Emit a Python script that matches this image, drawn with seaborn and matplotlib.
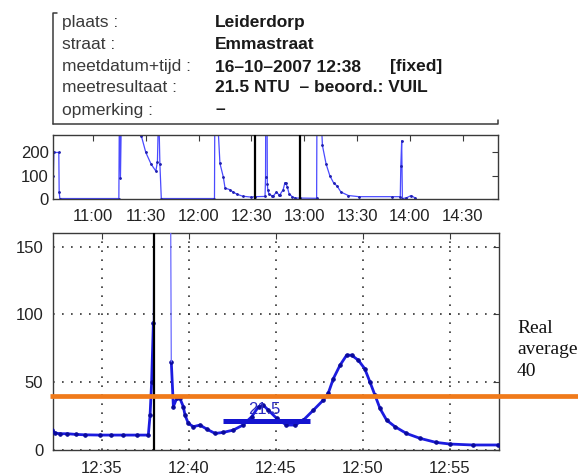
import matplotlib
matplotlib.use("Agg")
import matplotlib.pyplot as plt
import seaborn as sns
import pandas as pd

# ---------------- data ----------------
info_labels = ["plaats :", "straat :", "meetdatum+tijd :", "meetresultaat :", "opmerking :"]
info_values = ["Leiderdorp", "Emmastraat", "16\u201310\u20132007 12:38", "21.5 NTU  \u2013 beoord.: VUIL", "\u2013"]
info_flag = "[fixed]"

# overview (minutes since midnight)
overview_t = [637.5, 637.8, 640.6, 640.8, 641.2,
              674.7, 675.0, 675.6, 676.2, 687.0, 687.5, 690.0, 693.0, 695.7, 696.6, 697.3, 698.0, 698.8,
              729.0, 729.2, 730.4, 732.1, 734.0, 735.0, 737.8, 739.5, 742.0, 745.0, 750.0, 752.2,
              757.7, 758.0, 758.1, 758.9, 759.0, 759.3, 760.0, 761.4, 762.5, 764.2, 765.6, 766.1,
              768.0, 769.0, 769.4, 770.4, 771.4, 773.3, 775.0, 777.8,
              787.0, 787.2, 789.0, 790.0, 790.3, 792.4, 794.5, 796.6, 798.7, 800.8, 805.0, 811.0,
              830.0, 834.5, 834.8, 835.3, 835.7, 838.0, 840.7, 842.8]
overview_v = [100, 200, 200, 30, 2,
              2, 400, 90, 400, 400, 270, 200, 150, 120, 160, 400, 150, 2,
              2, 400, 400, 153, 95, 47, 40, 30, 20, 12, 8, 10,
              11, 95, 400, 300, 65, 38, 20, 15, 14, 30, 18, 18,
              40, 70, 70, 50, 22, 9, 4, 4,
              3, 400, 400, 280, 230, 150, 100, 70, 55, 30, 15, 10,
              10, 10, 140, 250, 2, 5, 15, 5]
overview_ticks = [660, 690, 720, 750, 780, 810, 840, 870]
overview_ticklabels = ["11:00", "11:30", "12:00", "12:30", "13:00", "13:30", "14:00", "14:30"]
overview_yticks = [0, 100, 200]
window = [752.2, 777.8]

# detail window
detail_pre_t = [752.1, 752.3, 752.6, 753.0, 753.5, 754.0, 754.9, 755.5, 756.2, 757.0, 757.66, 757.76, 757.85, 757.95]
detail_pre_v = [14.7, 12.5, 12.0, 12.0, 11.5, 11.2, 11.0, 11.0, 11.0, 11.0, 11.0, 25.7, 50.0, 94.0]
spike_t = [757.95, 758.05, 758.9, 758.98]
spike_v = [94, 400, 300, 65]
detail_post_t = [758.98, 759.1, 759.29, 759.48, 759.67, 759.77, 759.96, 760.25, 760.63, 761.02, 761.5, 761.97,
                 762.55, 763.1, 763.6, 764.0, 764.27, 764.56, 765.04, 765.6, 766.1, 766.57, 767.15, 767.72,
                 768.0, 768.3, 768.68, 769.06, 769.35, 769.73, 770.1, 770.4, 770.69, 770.98, 771.36, 771.84,
                 772.5, 773.28, 774.2, 775.0, 776.3, 777.77]
detail_post_v = [65, 32, 38, 38, 32, 25.7, 19.6, 17.2, 18.4, 15.4, 12.2, 13.0,
                 14.7, 18.4, 24.5, 32.0, 33.0, 29.4, 23.3, 18.4, 18.4, 22.0, 29.4, 36.8,
                 41.7, 52.7, 62.5, 69.9, 69.9, 66.2, 60.0, 50.2, 40.4, 30.6, 22.0, 17.2,
                 12.2, 8.6, 5.6, 4.4, 3.7, 3.7]
detail_ticks = [755, 760, 765, 770, 775]
detail_ticklabels = ["12:35", "12:40", "12:45", "12:50", "12:55"]
detail_yticks = [0, 50, 100, 150]
measure_time = 758.0
result_value = 21.5
result_span = [761.95, 766.95]
result_label = "21.5"
real_average = 40
avg_label = "Real\naverage\n40"

# ---------------- style ----------------
sns.set_style("white")
plt.rcParams["font.family"] = ["Liberation Sans", "DejaVu Sans"]
SPINE = "#3a3a3a"
W, H = 578, 476
fig = plt.figure(figsize=(W / 100, H / 100), dpi=100)


def fx(px):
    return px / W


def fy(py):
    return 1 - py / H


# ---- info box ----
ax_info = fig.add_axes([fx(53), fy(124), (498 - 53) / W, (124 - 13) / H])
ax_info.set_xlim(53, 498)
ax_info.set_ylim(124, 13)
ax_info.axis("off")
ax_info.plot([57, 53, 53], [13, 13, 124], color=SPINE, lw=1.1, clip_on=False)
ax_info.plot([53, 498, 498], [124, 124, 120], color=SPINE, lw=1.1, clip_on=False)
rows = [23, 45, 67, 88, 110]
for r, lab, val in zip(rows, info_labels, info_values):
    ax_info.text(62, r, lab, fontsize=12.5, va="center", ha="left", color="#3a3a3a")
    ax_info.text(215, r, val, fontsize=12.5, va="center", ha="left", color="#1a1a1a", fontweight="bold")
ax_info.text(390, rows[2], info_flag, fontsize=12.5, va="center", ha="left", color="#1a1a1a", fontweight="bold")

# ---- overview panel ----
ax_top = fig.add_axes([fx(53), fy(199), (498 - 53) / W, (199 - 135) / H])
df_top = pd.DataFrame({"t": overview_t, "v": overview_v})
sns.lineplot(data=df_top, x="t", y="v", ax=ax_top, sort=False, estimator=None,
             color="#4a4aff", lw=0.9, marker=".", markersize=2.5,
             markeredgecolor="#2020b0", markerfacecolor="#2020b0")
for w in window:
    ax_top.axvline(w, color="black", lw=1.6, zorder=5)
ax_top.set_xlim(637.3, 890)
ax_top.set_ylim(0, 275)
ax_top.set_xticks(overview_ticks)
ax_top.set_xticklabels(overview_ticklabels)
ax_top.set_yticks(overview_yticks)
ax_top.set_xlabel("")
ax_top.set_ylabel("")
ax_top.tick_params(direction="in", length=4, width=0.8, top=True, right=True,
                   labelsize=12, colors=SPINE, labelcolor="#222222")
ax_top.tick_params(axis="x", pad=7)
ax_top.tick_params(axis="y", pad=3)

# ---- detail panel ----
ax = fig.add_axes([fx(53), fy(450), 446 / W, (450 - 233) / H])
df_pre = pd.DataFrame({"t": detail_pre_t, "v": detail_pre_v})
df_spk = pd.DataFrame({"t": spike_t, "v": spike_v})
df_post = pd.DataFrame({"t": detail_post_t, "v": detail_post_v})
for d in (df_pre, df_post):
    sns.lineplot(data=d, x="t", y="v", ax=ax, sort=False, estimator=None,
                 color="#1c1ce0", lw=2.0, marker=".", markersize=5,
                 markeredgecolor="#0a0a9a", markerfacecolor="#0a0a9a", zorder=3)
sns.lineplot(data=df_spk, x="t", y="v", ax=ax, sort=False, estimator=None,
             color="#6a6aff", lw=0.9, zorder=3)
ax.axvline(measure_time, color="black", lw=1.6, zorder=4)
ax.plot(result_span, [result_value, result_value], color="#1414d0", lw=3.6,
        solid_capstyle="butt", zorder=5)
ax.text(sum(result_span) / 2 - 0.1, result_value + 8, result_label, color="#2a2ac0",
        fontsize=12, ha="center", va="center", zorder=6)
ax.plot([-0.007, 1.25], [real_average, real_average], transform=ax.get_yaxis_transform(),
        color="#f07a1a", lw=3.4, clip_on=False, zorder=7, solid_capstyle="butt")
ax.set_xlim(752.18, 777.82)
ax.set_ylim(0, 160)
ax.set_xticks(detail_ticks)
ax.set_xticklabels(detail_ticklabels)
ax.set_yticks(detail_yticks)
ax.set_xlabel("")
ax.set_ylabel("")
ax.grid(True, linestyle=(0, (1, 4.4)), color="#333333", lw=1.2)
ax.tick_params(direction="in", length=4, width=0.8, top=True, right=True,
               labelsize=12, colors=SPINE, labelcolor="#222222")
ax.tick_params(axis="x", pad=8)
ax.tick_params(axis="y", pad=7)

for a in (ax_top, ax):
    for s in a.spines.values():
        s.set_color(SPINE)
        s.set_linewidth(1.0)
        s.set_visible(True)

fig.text(fx(517), fy(350), avg_label, family=["Liberation Serif", "DejaVu Serif"],
         fontsize=14, ha="left", va="center", linespacing=1.35, color="#111111")

fig.savefig("out.png", dpi=100)
